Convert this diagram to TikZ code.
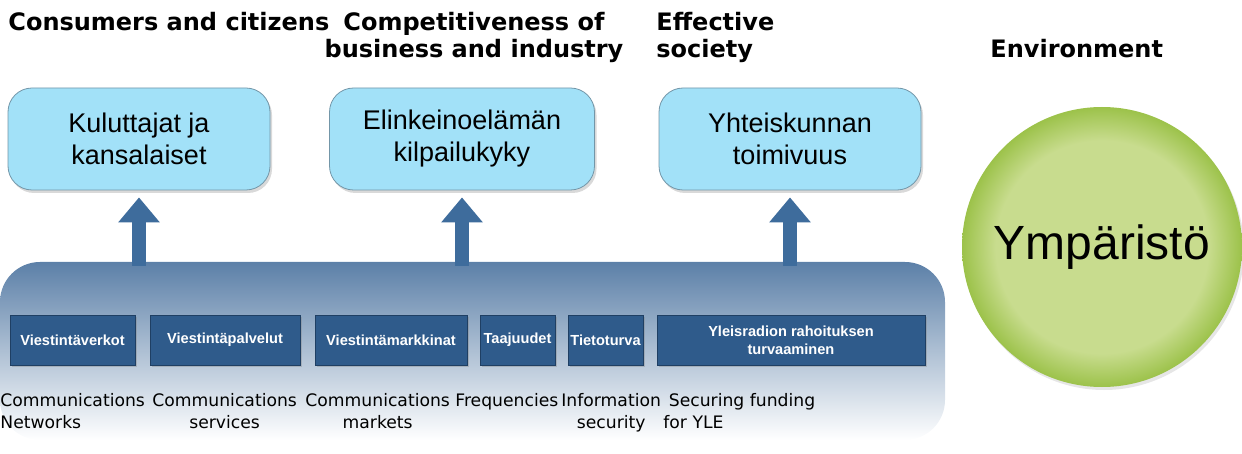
\documentclass[tikz,border=0pt]{standalone}
\usepackage{fontspec}
\usepackage{xcolor}
\setmainfont{DejaVu Sans}
\newfontfamily\boxfont{Liberation Sans}
\usetikzlibrary{positioning,arrows.meta,shadows}

\definecolor{skyfill}{HTML}{A2E1F8}
\definecolor{skyline}{HTML}{7396A8}
\definecolor{navyfill}{HTML}{2F5B8B}
\definecolor{navyline}{HTML}{1F3F63}
\definecolor{panelblue}{HTML}{5C80A8}
\definecolor{arrowblue}{HTML}{3E6C9C}
\definecolor{leafgreen}{HTML}{C8DC8E}
\definecolor{leafdark}{HTML}{9CC24A}

\pgfdeclareradialshading{leafball}{\pgfpoint{0bp}{0bp}}{color(0bp)=(leafgreen); color(19bp)=(leafgreen); color(25bp)=(leafdark); color(50bp)=(leafdark)}

\tikzset{
    heading/.style={inner sep=0pt, font=\fontsize{12}{13.5}\selectfont\bfseries},
    english/.style={inner sep=0pt, anchor=north west, font=\fontsize{8.6}{10.8}\selectfont},
    goalbox/.style={draw=skyline, fill=skyfill, rounded corners=12pt, minimum height=51pt, align=center,
        font=\boxfont\fontsize{13.5}{16}\selectfont, drop shadow={opacity=0.3, shadow xshift=1pt, shadow yshift=-1.5pt}},
    areabox/.style={draw=navyline, fill=navyfill, text=white, minimum height=25pt, inner sep=1pt, align=center,
        font=\boxfont\fontsize{7.3}{9}\selectfont\bfseries, drop shadow={opacity=0.35, shadow xshift=1pt, shadow yshift=-1pt}},
    bigarrow/.style={draw=arrowblue, line width=7pt, -{Triangle[width=20pt, length=12.5pt]}}
}

\begin{document}
\begin{tikzpicture}[x=0.5pt, y=-0.5pt]
    \useasboundingbox (0,0) rectangle (1242,454);

    % headings
    \node[heading, anchor=north west] (h-cons) at (8,12) {Consumers and citizens};
    \node[heading, anchor=north, align=center] (h-comp) at (474,12) {Competitiveness of\\business and industry};
    \node[heading, anchor=north west, align=left] (h-eff) at (656,12) {Effective\\society};
    \node[heading, anchor=north west] (h-env) at (990,39) {Environment};

    % goal boxes
    \node[goalbox, minimum width=131pt] (kul) at (139,139) {Kuluttajat ja\\kansalaiset};
    \node[goalbox, minimum width=132.5pt] (elin) at (462,139) {Elinkeinoelämän\\kilpailukyky};
    \node[goalbox, minimum width=131pt] (yht) at (790,139) {Yhteiskunnan\\toimivuus};

    % base panel
    \node[top color=panelblue, middle color=panelblue!60!white, bottom color=white, rounded corners=20pt,
        minimum width=472.5pt, minimum height=89pt, inner sep=0pt] (base) at (472.5,351) {};

    \draw[bigarrow] ([yshift=-2pt]base.north -| kul.south) -- ([yshift=-3.5pt]kul.south);
    \draw[bigarrow] ([yshift=-2pt]base.north -| elin.south) -- ([yshift=-3.5pt]elin.south);
    \draw[bigarrow] ([yshift=-2pt]base.north -| yht.south) -- ([yshift=-3.5pt]yht.south);

    % areas
    \node[areabox, minimum width=62.5pt] (verkot) at (72.5,340) {Viestintäverkot};
    \node[areabox, minimum width=75pt] (palvelut) at (225,340) {Viestintäpalvelut};
    \node[areabox, minimum width=76pt] (markkinat) at (391,340) {Viestintämarkkinat};
    \node[areabox, minimum width=37.5pt] (taaj) at (517.5,340) {Taajuudet};
    \node[areabox, minimum width=37.5pt] (tieto) at (605.5,340) {Tietoturva};
    \node[areabox, minimum width=134pt] (yle) at (791,340) {Yleisradion rahoituksen\\turvaaminen};

    % english names
    \node[english, align=left] (e-verkot) at (0,393) {Communications\\Networks};
    \node[english, align=center] (e-palvelut) at (152,393) {Communications\\services};
    \node[english, align=center] (e-markkinat) at (305,393) {Communications\\markets};
    \node[english, align=left] (e-taaj) at (455,393) {Frequencies};
    \node[english, align=center] (e-tieto) at (561,393) {Information\\security};
    \node[english, align=left] (e-yle) at (663,393) {\ Securing funding\\for YLE};

    % environment
    \node[circle, shading=leafball, minimum size=140pt, inner sep=0pt, font=\boxfont\fontsize{24}{28}\selectfont,
        drop shadow={opacity=0.2, shadow xshift=1pt, shadow yshift=-1.5pt}] (ymp) at (1102,247) {Ympäristö};
\end{tikzpicture}
\end{document}
